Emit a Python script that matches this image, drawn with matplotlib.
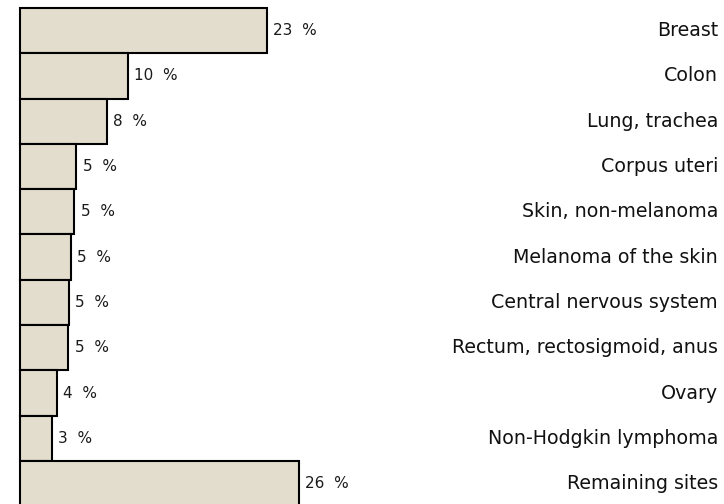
import matplotlib
matplotlib.use("Agg")
import matplotlib.pyplot as plt
import matplotlib.transforms as mtransforms

sites = ["Breast", "Colon", "Lung, trachea", "Corpus uteri",
         "Skin, non-melanoma", "Melanoma of the skin",
         "Central nervous system", "Rectum, rectosigmoid, anus",
         "Ovary", "Non-Hodgkin lymphoma", "Remaining sites"]
shares = [23.0, 10.1, 8.1, 5.3, 5.1, 4.8, 4.6, 4.55, 3.5, 3.0, 26.0]

fill = "#e2ddcc"

fig = plt.figure(figsize=(7.24, 5.04), dpi=100)
ax = fig.add_axes([0, 0, 1, 1])

ypos = list(range(len(sites)))
ax.barh(ypos, shares, height=1.0, color=fill, edgecolor="black",
        linewidth=1.5, align="center")

# value labels just past the bar ends
for y, v in zip(ypos, shares):
    ax.annotate("%.0f  %%" % v, (v, y), xytext=(4.5, 0),
                textcoords="offset points", va="center", ha="left",
                fontsize=11, color="#1a1a1a")

# site names right-aligned at the figure edge
trans = mtransforms.blended_transform_factory(ax.transAxes, ax.transData)
for y, name in zip(ypos, sites):
    ax.text(718 / 724, y, name, transform=trans, ha="right", va="center",
            fontsize=13.7, color="#111111")

ax.set_xlim(-1.814, 65.53)
ax.set_ylim(10.45, -0.677)
ax.axis("off")

fig.savefig("out.png", dpi=100)
